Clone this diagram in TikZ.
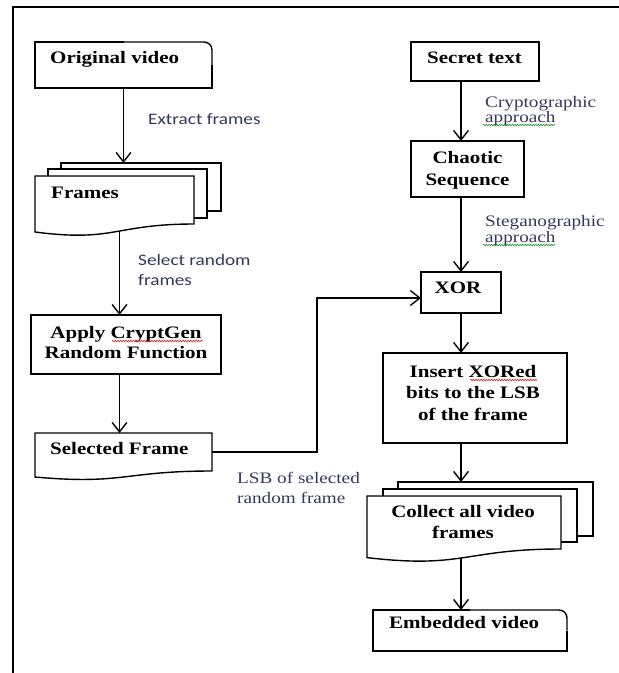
\documentclass[tikz,border=0pt]{standalone}
\usepackage{fontspec}
\usetikzlibrary{arrows.meta,decorations.pathmorphing}
\newfontfamily\bxfam{Liberation Serif}[FakeStretch=1.2]
\newfontfamily\lsfam{Carlito}[FakeStretch=1.2]
\newfontfamily\lrfam{Liberation Serif}[FakeStretch=1.2]
\definecolor{lblcol}{RGB}{52,56,90}
\definecolor{squigred}{RGB}{220,30,30}
\definecolor{squiggreen}{RGB}{40,150,40}
\begin{document}
\begin{tikzpicture}[x=1pt,y=-1pt,
  outl/.style={draw=black,line width=1.4pt,line join=miter},
  area/.style={inner sep=0pt,outer sep=0pt,rectangle},
  procbox/.style={area,draw=black,line width=1.4pt},
  arr/.style={draw=black,line width=1.4pt,-{Straight Barb[angle=76:12pt]}},
  bxtext/.style={inner sep=0pt,font={\bxfam\bfseries\fontsize{17.5}{20}\selectfont}},
  lstext/.style={inner sep=0pt,text=lblcol,font={\lsfam\fontsize{16}{20}\selectfont}},
  lrtext/.style={inner sep=0pt,text=lblcol,font={\lrfam\fontsize{16}{16}\selectfont}},
  squig/.style={line width=0.6pt,decorate,decoration={snake,amplitude=0.8pt,segment length=2.6pt}}
]
\useasboundingbox (0,0) rectangle (619,673);

% outer frame (left and top)
\draw[line width=2pt] (13,673) -- (13,7) -- (619,7);

% ---------- shape nodes ----------
\node[area,minimum width=177pt,minimum height=46pt] (orig) at (123.5,65) {};
\node[area,minimum width=159pt,minimum height=48pt] (framesF) at (114.5,200) {};
\node[area,minimum width=160pt,minimum height=48pt] (framesB) at (141,187) {};
\node[procbox,minimum width=190pt,minimum height=59pt] (apply) at (126,344.5) {};
\node[area,minimum width=177pt,minimum height=38pt] (sel) at (123.5,452) {};

\node[procbox,minimum width=128pt,minimum height=39pt] (secret) at (475,61.5) {};
\node[procbox,minimum width=113pt,minimum height=56pt] (chaotic) at (467.5,169) {};
\node[procbox,minimum width=80pt,minimum height=41pt] (xor) at (461,292.5) {};
\node[procbox,minimum width=184pt,minimum height=90pt] (insert) at (475,398) {};
\node[area,minimum width=194pt,minimum height=53pt] (collectF) at (464,522.5) {};
\node[area,minimum width=195pt,minimum height=54pt] (collectB) at (495.5,509) {};
\node[area,minimum width=194pt,minimum height=41pt] (emb) at (470,630.5) {};

% ---------- outlines ----------
% Original video (rounded top-right corner)
\draw[outl] (orig.north) -- (orig.north west) -- (orig.south west) -- (orig.south east) -- (orig.east);
\draw[outl,rounded corners=8pt] (orig.north) -- (orig.north east) -- (orig.east);

% Frames (multi-document)
\draw[outl] (61,170) -- (61,163) -- (221,163) -- (221,211) -- (207,211);
\draw[outl] (48,176) -- (48,169) -- (207,169) -- (207,218) -- (194,218);
\draw[outl,fill=white] (35,176) -- (194,176) -- (194,224)
   .. controls (114.5,224) and (114.5,242.4) .. (35,232) -- cycle;

% Selected Frame (document)
\draw[outl] (sel.north west) -- (sel.north east) -- (sel.south east)
   .. controls (123.5,471) and (123.5,485) .. (35,477) -- cycle;

% Collect all video frames (multi-document)
\draw[outl] (398,489) -- (398,482) -- (593,482) -- (593,536) -- (577,536);
\draw[outl] (383,496) -- (383,489) -- (577,489) -- (577,542) -- (561,542);
\draw[outl,fill=white] (367,496) -- (561,496) -- (561,549)
   .. controls (464,549) and (464,569) .. (367,557.6) -- cycle;

% Embedded video (rounded top-right corner)
\draw[outl] (emb.north) -- (emb.north west) -- (emb.south west) -- (emb.south east) -- (emb.east);
\draw[outl,rounded corners=8pt] (emb.north) -- (emb.north east) -- (emb.east);

% ---------- box texts ----------
\node[bxtext,anchor=base west] (origT) at (50,63) {Original video};
\node[bxtext,anchor=base west] (framesT) at (51,198) {Frames};
\node[bxtext,anchor=north,align=center] (applyT) at (126,324) {\rule{0pt}{14pt}Apply CryptGen\\Random Function};
\node[bxtext,anchor=base west] (selT) at (50,454) {Selected Frame};
\node[bxtext,anchor=base] (secretT) at (474.5,63) {Secret text};
\node[bxtext,anchor=north,align=center,font={\bxfam\bfseries\fontsize{17.5}{22}\selectfont}] (chaoticT) at (467.5,149) {\rule{0pt}{14pt}Chaotic\\Sequence};
\node[bxtext,anchor=base] (xorT) at (458,293) {XOR};
\node[bxtext,anchor=north,align=center,font={\bxfam\bfseries\fontsize{17.5}{21.5}\selectfont}] (insertT) at (473,363) {\rule{0pt}{14pt}Insert XORed\\bits to the LSB\\of the frame};
\node[bxtext,anchor=north,align=center,font={\bxfam\bfseries\fontsize{17.5}{21}\selectfont}] (collectT) at (463,503) {\rule{0pt}{14pt}Collect all video\\frames};
\node[bxtext,anchor=base west] (embT) at (389,628) {Embedded video};

% ---------- connector labels ----------
\node[lstext,anchor=base west] (extractL) at (148,124) {Extract frames};
\node[lstext,anchor=north west,align=left] (selectL) at (138,252) {\rule{0pt}{13pt}Select random\\frames};
\node[lrtext,anchor=north west,align=left,font={\lrfam\fontsize{16}{15.5}\selectfont}] (cryptoL) at (485,94) {\rule{0pt}{13pt}Cryptographic\\approach};
\node[lrtext,anchor=north west,align=left] (stegoL) at (485,213) {\rule{0pt}{13pt}Steganographic\\approach};
\node[lrtext,anchor=north west,align=left,font={\lrfam\fontsize{16}{20}\selectfont}] (lsbL) at (237,470) {\rule{0pt}{13pt}LSB of selected\\random frame};

% spell-check squiggles shown in the picture
\draw[squig,squigred] (112,341) -- (203,341);
\draw[squig,squigred] (470,380) -- (537,380);
\draw[squig,squiggreen] (483,125) -- (555,125);
\draw[squig,squiggreen] (483,245) -- (555,245);

% ---------- connectors ----------
\coordinate (framesBot) at (119.5,231);
\coordinate (bend) at (317,298);
\coordinate (collectBot) at (461,557.5);
\draw[arr] (orig.south) -- (orig.south |- framesB.north);
\draw[arr] (framesBot) -- (framesBot |- apply.north);
\draw[arr] (apply.south -| framesBot) -- (sel.north -| framesBot);
\draw[arr] (sel.east) -| (bend) -- (xor.west |- bend);
\draw[arr] (secret.south -| xor.north) -- (chaotic.north -| xor.north);
\draw[arr] (chaotic.south -| xor.north) -- (xor.north);
\draw[arr] (xor.south) -- (insert.north -| xor.south);
\draw[arr] (insert.south -| xor.south) -- (collectB.north -| xor.south);
\draw[arr] (collectBot) -- (emb.north -| collectBot);
\end{tikzpicture}
\end{document}
